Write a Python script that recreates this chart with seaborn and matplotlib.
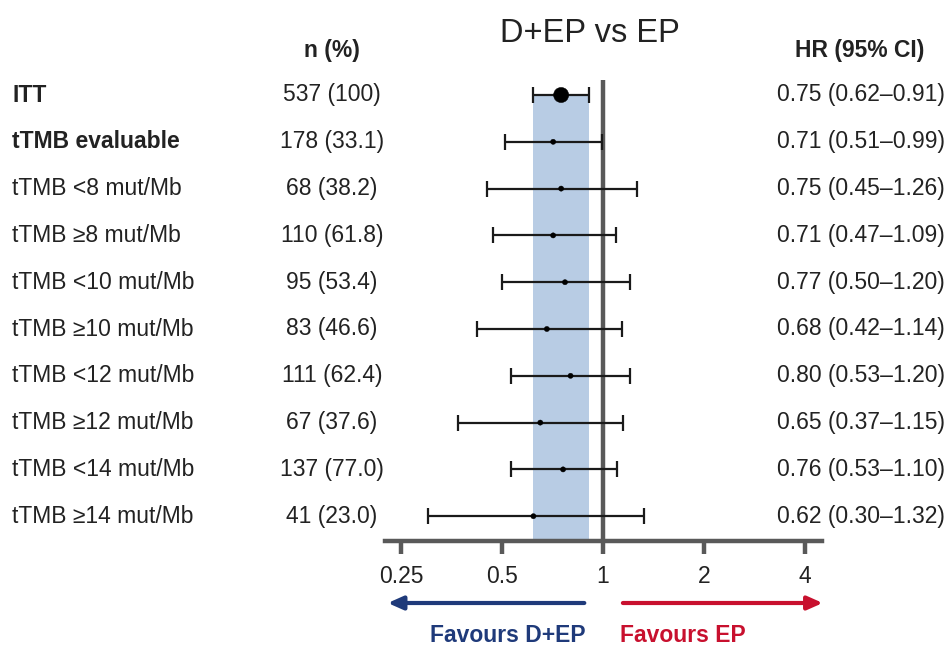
import numpy as np
import matplotlib
matplotlib.use('Agg')
import matplotlib.pyplot as plt
import matplotlib.transforms as mtransforms
import seaborn as sns
import pandas as pd

# 数据
subgroups = ['ITT', 'tTMB evaluable', 'tTMB <8 mut/Mb', 'tTMB \u22658 mut/Mb',
             'tTMB <10 mut/Mb', 'tTMB \u226510 mut/Mb', 'tTMB <12 mut/Mb',
             'tTMB \u226512 mut/Mb', 'tTMB <14 mut/Mb', 'tTMB \u226514 mut/Mb']
n_pct = ['537 (100)', '178 (33.1)', '68 (38.2)', '110 (61.8)', '95 (53.4)',
         '83 (46.6)', '111 (62.4)', '67 (37.6)', '137 (77.0)', '41 (23.0)']
hr = [0.75, 0.71, 0.75, 0.71, 0.77, 0.68, 0.80, 0.65, 0.76, 0.62]
ci_low = [0.62, 0.51, 0.45, 0.47, 0.50, 0.42, 0.53, 0.37, 0.53, 0.30]
ci_high = [0.91, 0.99, 1.26, 1.09, 1.20, 1.14, 1.20, 1.15, 1.10, 1.32]
bold_rows = ['ITT', 'tTMB evaluable']
x_ticks = [0.25, 0.5, 1, 2, 4]
x_ticklabels = ['0.25', '0.5', '1', '2', '4']

df = pd.DataFrame({'subgroup': subgroups, 'n': n_pct, 'hr': hr,
                   'lo': ci_low, 'hi': ci_high})
df['row'] = np.arange(len(df))
df['size'] = np.where(df['subgroup'] == 'ITT', 'big', 'small')

sns.set_style('white')
plt.rcParams['font.family'] = ['Liberation Sans', 'DejaVu Sans']

W, H = 951, 647
fig = plt.figure(figsize=(W / 100, H / 100), dpi=100)

# 坐标轴区域 (像素)
ax_l, ax_r, ax_t, ax_b = 385, 822, 80, 541
ax = fig.add_axes([ax_l / W, 1 - ax_b / H, (ax_r - ax_l) / W, (ax_b - ax_t) / H])
ax.set_xscale('log', base=2)
ax.set_xlim(0.224, 4.49)
row0, step = 95, 46.8
ax.set_ylim((ax_b - row0) / step, (ax_t - row0) / step)

gray = '#595959'
txt = '#222222'
fs = 16.5

# ITT 置信区间阴影
ax.fill_betweenx([0, (ax_b - row0) / step], ci_low[0], ci_high[0],
                 color='#b8cce4', lw=0, zorder=0)
# HR=1 参考线
ax.axvline(1, color=gray, lw=3.2, zorder=3)

# 误差线
ax.errorbar(df['hr'], df['row'], xerr=[df['hr'] - df['lo'], df['hi'] - df['hr']],
            fmt='none', ecolor='#1a1a1a', elinewidth=1.6, capsize=6, capthick=1.6,
            zorder=4)
sns.scatterplot(data=df, x='hr', y='row', size='size', sizes={'big': 120, 'small': 14},
                color='black', edgecolor='black', legend=False, ax=ax, zorder=5)

# 轴样式
for s in ['top', 'right', 'left']:
    ax.spines[s].set_visible(False)
ax.spines['bottom'].set_color(gray)
ax.spines['bottom'].set_linewidth(3.2)
ax.set_xticks(x_ticks)
ax.set_xticklabels(x_ticklabels)
ax.minorticks_off()
ax.tick_params(axis='x', bottom=True, direction='out', length=9, width=3.2, color=gray,
               labelsize=fs, labelcolor=txt, pad=8)
ax.set_yticks([])
ax.set_xlabel('')
ax.set_ylabel('')

# 文本列
def fy(row):
    return 1 - (row0 + row * step) / H

for i, (name, n, h, lo, hi) in enumerate(zip(subgroups, n_pct, hr, ci_low, ci_high)):
    w = 'bold' if name in bold_rows else 'normal'
    fig.text(12 / W, fy(i), name, ha='left', va='center', fontsize=fs,
             fontweight=w, color=txt)
    fig.text(332 / W, fy(i), n, ha='center', va='center', fontsize=fs, color=txt)
    fig.text(945 / W, fy(i), f'{h:.2f} ({lo:.2f}\u2013{hi:.2f})', ha='right',
             va='center', fontsize=fs, color=txt)

fig.text(332 / W, 1 - 50 / H, 'n (%)', ha='center', va='center', fontsize=fs,
         fontweight='bold', color=txt)
fig.text(860 / W, 1 - 50 / H, 'HR (95% CI)', ha='center', va='center', fontsize=fs,
         fontweight='bold', color=txt)
fig.text(590 / W, 1 - 33 / H, 'D+EP vs EP', ha='center', va='center', fontsize=23.5,
         color=txt)

# 箭头与说明
trans = mtransforms.blended_transform_factory(ax.transData, fig.transFigure)
blue = '#1f3a7a'
red = '#c8102e'
ax.annotate('', xy=(0.224, 1 - 603 / H), xytext=(0.896, 1 - 603 / H),
            xycoords=trans, textcoords=trans, annotation_clip=False,
            arrowprops=dict(arrowstyle='-|>,head_length=0.9,head_width=0.4',
                            color=blue, lw=3))
ax.annotate('', xy=(4.6, 1 - 603 / H), xytext=(1.124, 1 - 603 / H),
            xycoords=trans, textcoords=trans, annotation_clip=False,
            arrowprops=dict(arrowstyle='-|>,head_length=0.9,head_width=0.4',
                            color=red, lw=3))
fig.text(508 / W, 1 - 635 / H, 'Favours D+EP', ha='center', va='center',
         fontsize=fs, fontweight='bold', color=blue)
fig.text(683 / W, 1 - 635 / H, 'Favours EP', ha='center', va='center',
         fontsize=fs, fontweight='bold', color=red)

fig.savefig('out.png', dpi=100)
